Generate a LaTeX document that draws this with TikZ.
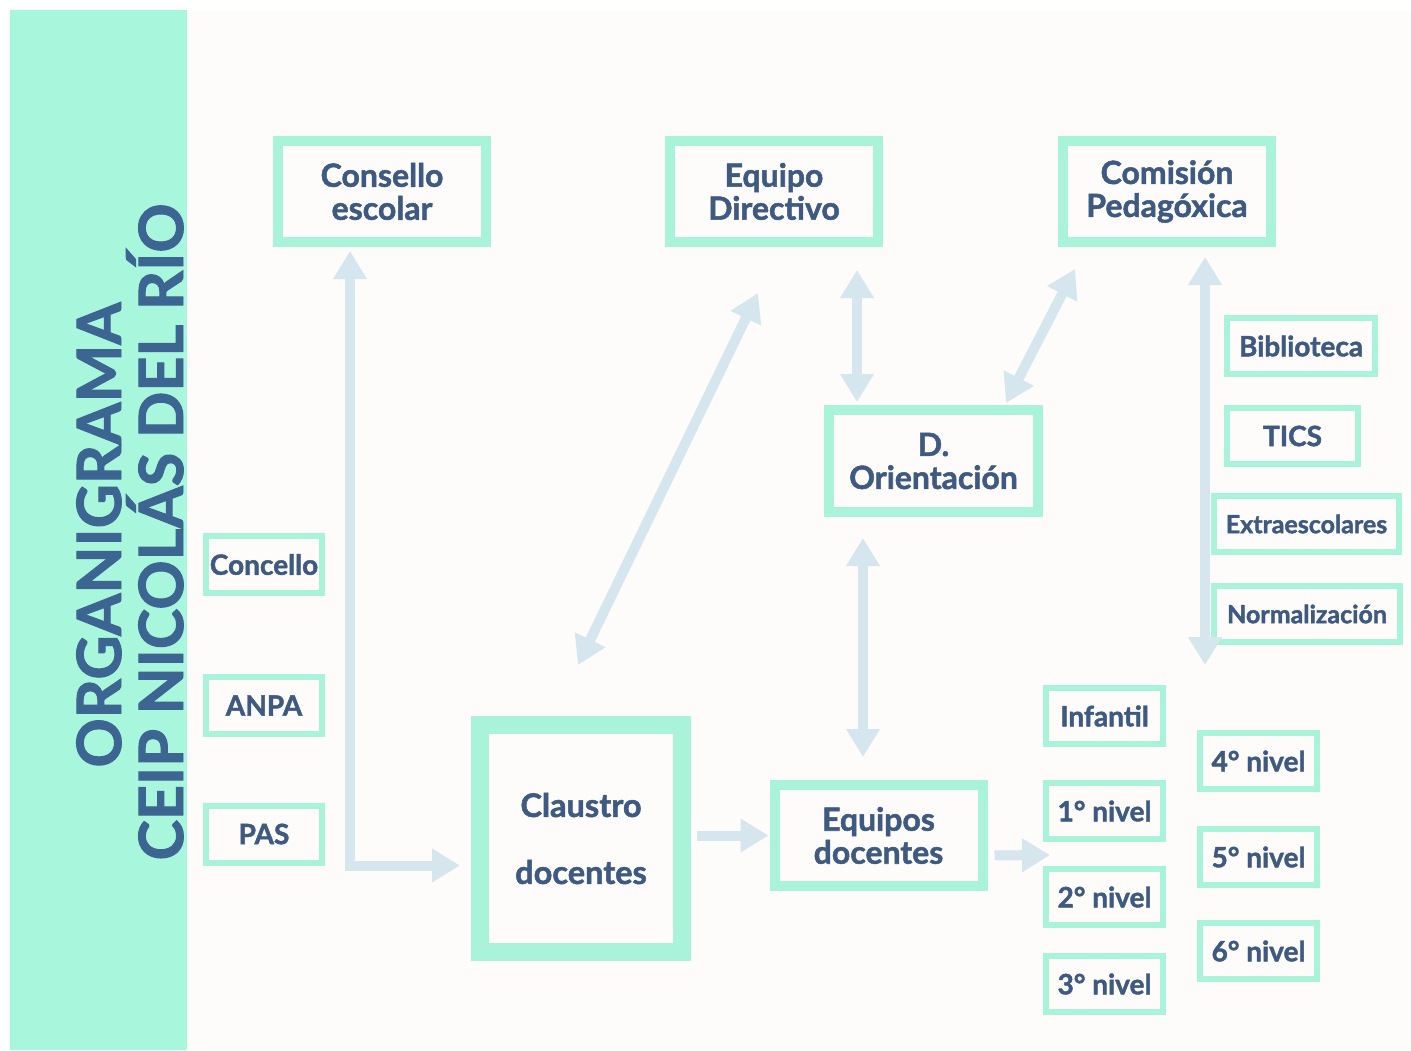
\documentclass[tikz,border=0pt]{standalone}
\usepackage{fontspec}
\setmainfont{Lato}[BoldFeatures={FakeBold=1.6}]
\usetikzlibrary{arrows.meta}
\definecolor{mint}{HTML}{A8F6DC}
\definecolor{boxc}{HTML}{A9F3DA}
\definecolor{txt}{HTML}{3F5A80}
\definecolor{ttl}{HTML}{3C6592}
\definecolor{arrc}{HTML}{D5E6EE}
\definecolor{bg}{HTML}{FDFCFA}
\begin{document}
\begin{tikzpicture}[x=1pt,y=-1pt,
 bigbox/.style={draw=boxc, line width=10pt, minimum width=208pt, minimum height=101pt, inner sep=0pt, align=center, text=txt, font=\fontsize{32}{33}\selectfont\bfseries},
 smallbox/.style={draw=boxc, line width=6pt, minimum height=56pt, inner sep=0pt, align=center, text=txt, font=\fontsize{28}{30}\selectfont\bfseries},
 lvl/.style={smallbox, minimum width=117pt},
 link/.style={draw=arrc, line width=10pt},
 both/.style={link, {Triangle[length=28pt,width=32pt]}-{Triangle[length=28pt,width=32pt]}},
 one/.style={link, -{Triangle[length=28pt,width=32pt]}},
 ttlstyle/.style={rotate=90, anchor=base, text=ttl, inner sep=0pt, font=\fontsize{61}{61}\selectfont\bfseries},
]
\useasboundingbox (0,0) rectangle (1411,1050);
\fill[white] (0,0) rectangle (1411,1050);
\fill[bg] (10,10) rectangle (1411,1050);
\fill[mint] (10,10) rectangle (187,1050);

% title
\node[ttlstyle] (t1) at (121,535) {ORGANIGRAMA};
\node[ttlstyle] (t2) at (183,532) {CEIP NICOLÁS DEL RÍO};

% main boxes
\node[bigbox] (cons) at (382,191.5) {Consello\\escolar};
\node[bigbox] (edir) at (774,191.5) {Equipo\\Directivo};
\node[bigbox] (com) at (1167,191.5) {Comisión\\Pedagóxica};
\node[bigbox, minimum width=209pt, minimum height=102pt] (dor) at (933.5,461) {D.\\Orientación};
\node[bigbox, line width=18pt, minimum width=202pt, minimum height=227pt, font=\fontsize{32.5}{67}\selectfont\bfseries] (claus) at (581,838.5) {Claustro\\docentes};
\node[bigbox] (eqd) at (878.5,835.5) {Equipos\\docentes};

% left boxes
\node[smallbox, minimum width=116pt, minimum height=57pt] (conc) at (264,564.5) {Concello};
\node[smallbox, minimum width=116pt, minimum height=57pt] (anpa) at (264,705.5) {ANPA};
\node[smallbox, minimum width=116pt, minimum height=57pt] (pas) at (264,834) {PAS};

% commissions
\node[smallbox, minimum width=148pt] (bib) at (1301,346) {Biblioteca};
\node[smallbox, minimum width=131pt] (tics) at (1292.5,436) {TICS};
\node[smallbox, minimum width=185pt, font=\fontsize{25}{27}\selectfont\bfseries] (extra) at (1306.5,524) {Extraescolares};
\node[smallbox, minimum width=186pt, font=\fontsize{25}{27}\selectfont\bfseries] (norm) at (1307,614) {Normalización};

% levels
\node[lvl] (inf) at (1104.5,716) {Infantil};
\node[lvl] (n1) at (1104.5,811) {1° nivel};
\node[lvl] (n2) at (1104.5,897) {2° nivel};
\node[lvl] (n3) at (1104.5,984) {3° nivel};
\node[lvl] (n4) at (1258.5,761) {4° nivel};
\node[lvl] (n5) at (1258.5,857) {5° nivel};
\node[lvl] (n6) at (1258.5,951) {6° nivel};

% free ends
\coordinate (dA) at (758,293);
\coordinate (dB) at (578,665);
\coordinate (cA) at (1075,269);
\coordinate (cB) at (1006,403);
\coordinate (comend) at (1205,665);
\coordinate (nivin) at (1050,855);

% connectors
\draw[both, shorten <=4pt, shorten >=11pt] ([xshift=-32pt]cons.south) |- ([yshift=-27pt]claus.west);
\draw[one, shorten <=6pt, shorten >=1pt] (claus.east |- eqd.west) -- (eqd.west);
\draw[one, shorten <=7pt] ([yshift=-20pt]eqd.east) -- (nivin);
\draw[both] (dA) -- (dB);
\draw[both, shorten <=23pt, shorten >=3pt] ([xshift=83pt]edir.south) -- ([xshift=-76.5pt]dor.north);
\draw[both] (cA) -- (cB);
\draw[both, shorten <=21pt, shorten >=23pt] ([xshift=-70.5pt]dor.south) -- ([xshift=-70.5pt]dor.south |- eqd.north);
\draw[both, shorten <=10pt] ([xshift=38pt]com.south) -- (comend);
\end{tikzpicture}
\end{document}
